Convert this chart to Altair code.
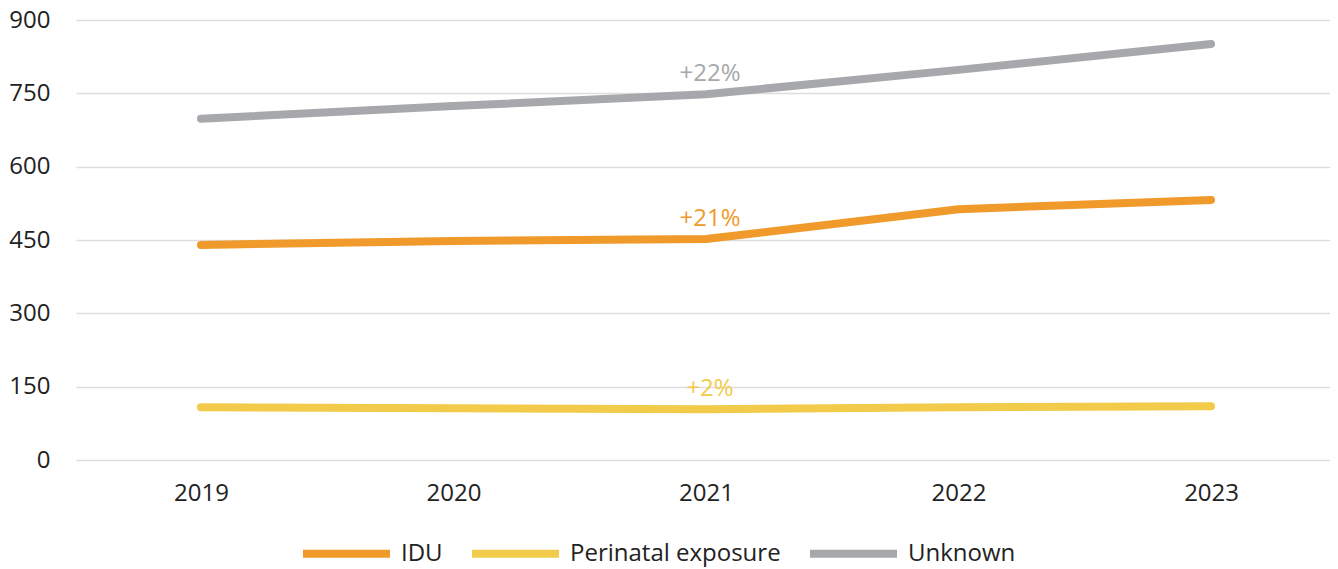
import altair as alt
import pandas as pd

years = [2019, 2020, 2021, 2022, 2023]
series = ["IDU", "Perinatal exposure", "Unknown"]
idu = [440, 448, 452, 513, 532]
perinatal = [108, 106, 104, 108, 110]
unknown = [698, 724, 748, 798, 851]
change_labels = ["+21%", "+2%", "+22%"]
label_year = 2021
colors = ["#EF9A2A", "#F2CB4A", "#A7A8AC"]
y_ticks = [0, 150, 300, 450, 600, 750, 900]

rows = []
for s, vals in zip(series, [idu, perinatal, unknown]):
    for yr, v in zip(years, vals):
        rows.append({"year": yr, "value": v, "series": s})
df = pd.DataFrame(rows)

lab_rows = []
for s, vals, t in zip(series, [idu, perinatal, unknown], change_labels):
    lab_rows.append({"year": label_year, "value": vals[years.index(label_year)], "series": s, "label": t})
lab = pd.DataFrame(lab_rows)

FONT = "Open Sans"
FS = 24

x = alt.X(
    "year:Q",
    scale=alt.Scale(domain=[2018.505, 2023.471], nice=False, zero=False),
    axis=alt.Axis(values=years, format="d", grid=False, domain=False, ticks=False,
                  labelFontSize=FS, labelPadding=21, title=None, labelFont=FONT,
                  labelColor="#222222", labelFlush=False),
)
y = alt.Y(
    "value:Q",
    scale=alt.Scale(domain=[0, 900], nice=False),
    axis=alt.Axis(values=y_ticks, grid=True, gridColor="#DDDDDD", gridWidth=1.5,
                  domain=False, ticks=False, labelFontSize=FS, labelPadding=26,
                  title=None, labelFont=FONT, labelColor="#222222"),
)
color = alt.Color(
    "series:N",
    scale=alt.Scale(domain=series, range=colors),
    legend=alt.Legend(orient="none", legendX=223, legendY=486, direction="horizontal",
                      title=None, symbolType="stroke", symbolSize=7569, symbolStrokeWidth=8,
                      labelFontSize=FS, labelFont=FONT, labelColor="#222222", labelLimit=0,
                      columnPadding=13, labelOffset=7),
)

lines = alt.Chart(df).mark_line(strokeWidth=8, strokeCap="round", strokeJoin="round").encode(
    x=x, y=y, color=color
)
texts = alt.Chart(lab).mark_text(fontSize=FS, font=FONT, baseline="alphabetic", dy=-13, dx=4).encode(
    x=alt.X("year:Q"), y=alt.Y("value:Q"),
    text="label:N",
    color=alt.Color("series:N", scale=alt.Scale(domain=series, range=colors), legend=None),
)

chart = alt.layer(lines, texts).properties(
    width=1254, height=440,
    autosize=alt.AutoSizeParams(type="none"),
    padding={"left": 68, "top": 12, "right": 0, "bottom": 109},
).configure_view(stroke=None)

chart.save("out.html", embed_options={"renderer": "svg", "actions": False})
